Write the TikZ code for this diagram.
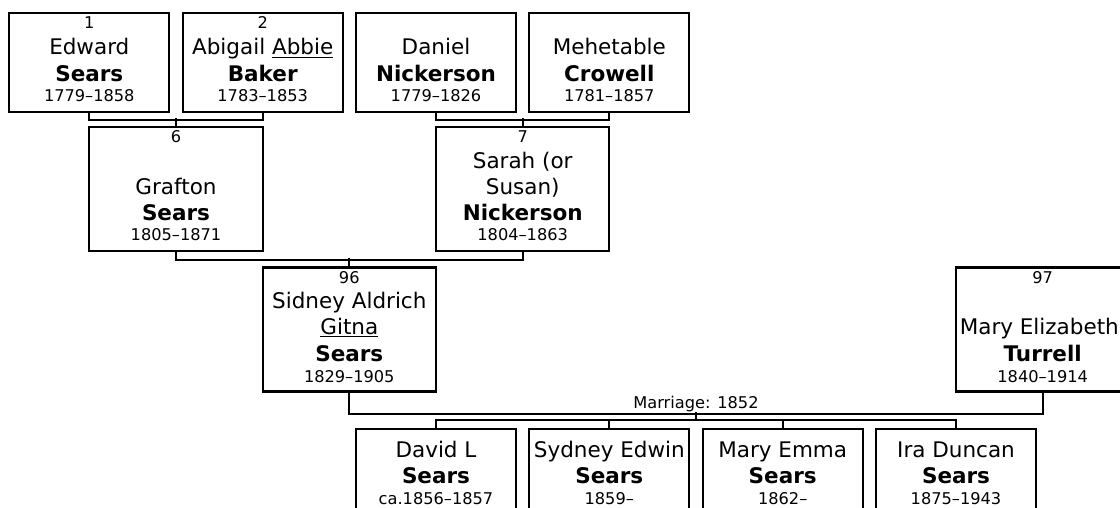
\documentclass[tikz,border=0pt]{standalone}
\usepackage{fontspec}
\setmainfont{DejaVu Sans}
\usetikzlibrary{calc}

\begin{document}
\begin{tikzpicture}[x=1pt, y=-1pt, line join=miter,
  caja/.style={draw, line width=2.2pt, inner sep=0pt, minimum width=160pt, minimum height=99pt},
  ancha/.style={caja, minimum width=173.3pt, minimum height=124pt},
  hijo/.style={caja, minimum height=85pt},
  nombre/.style={anchor=base, font=\fontsize{21.5}{25}\selectfont},
  apellido/.style={anchor=base, font=\fontsize{21.5}{25}\selectfont\bfseries},
  dato/.style={anchor=base, font=\fontsize{16.2}{19}\selectfont},
  enlace/.style={line width=2.2pt}]
  \useasboundingbox (0,0) rectangle (1120,508);
  \fill[white] (0,0) rectangle (1120,508);
  \clip (0,0) rectangle (1120,508);

  % Bisabuelos
  \node[caja] (edward) at (89.3,62.5) {};
  \node[dato] (edward-n) at (89.3,28.5) {1};
  \node[nombre] (edward-p) at (89.3,55) {Edward};
  \node[apellido] (edward-a) at (89.3,81.5) {Sears};
  \node[dato] (edward-f) at (89.3,101.5) {1779--1858};

  \node[caja] (abigail) at (262.7,62.5) {};
  \node[dato] (abigail-n) at (262.7,28.5) {2};
  \node[nombre] (abigail-p) at (262.7,55) {Abigail \underline{Abbie}};
  \node[apellido] (abigail-a) at (262.7,81.5) {Baker};
  \node[dato] (abigail-f) at (262.7,101.5) {1783--1853};

  \node[caja] (daniel) at (436,62.5) {};
  \node[nombre] (daniel-p) at (436,55) {Daniel};
  \node[apellido] (daniel-a) at (436,81.5) {Nickerson};
  \node[dato] (daniel-f) at (436,101.5) {1779--1826};

  \node[caja] (mehetable) at (609.3,62.5) {};
  \node[nombre] (mehetable-p) at (609.3,55) {Mehetable};
  \node[apellido] (mehetable-a) at (609.3,81.5) {Crowell};
  \node[dato] (mehetable-f) at (609.3,101.5) {1781--1857};

  % Abuelos
  \node[ancha] (grafton) at (176,189) {};
  \node[dato] (grafton-n) at (176,142.5) {6};
  \node[nombre] (grafton-p) at (176,194.5) {Grafton};
  \node[apellido] (grafton-a) at (176,220) {Sears};
  \node[dato] (grafton-f) at (176,240.5) {1805--1871};

  \node[ancha] (sarah) at (522.7,189) {};
  \node[dato] (sarah-n) at (522.7,142.5) {7};
  \node[nombre] (sarah-p) at (522.7,168) {Sarah (or};
  \node[nombre] (sarah-q) at (522.7,194.5) {Susan)};
  \node[apellido] (sarah-a) at (522.7,220) {Nickerson};
  \node[dato] (sarah-f) at (522.7,240.5) {1804--1863};

  % Padres
  \node[ancha] (sidney) at (349.3,329.5) {};
  \node[dato] (sidney-n) at (349.3,283) {96};
  \node[nombre] (sidney-p) at (349.3,308) {Sidney Aldrich};
  \node[nombre] (sidney-q) at (349.3,334) {\underline{Gitna}};
  \node[apellido] (sidney-a) at (349.3,361) {Sears};
  \node[dato] (sidney-f) at (349.3,382) {1829--1905};

  \node[ancha] (mary) at (1042.7,329.5) {};
  \node[dato] (mary-n) at (1042.7,283) {97};
  \node[nombre] (mary-p) at (1039.3,334) {Mary Elizabeth};
  \node[apellido] (mary-a) at (1042.7,361) {Turrell};
  \node[dato] (mary-f) at (1042.7,382) {1840--1914};

  % Hijos
  \node[hijo] (david) at (436,471.5) {};
  \node[nombre] (david-p) at (436,457) {David L};
  \node[apellido] (david-a) at (436,483) {Sears};
  \node[dato] (david-f) at (436,504) {ca.1856--1857};

  \node[hijo] (sydney) at (609.3,471.5) {};
  \node[nombre] (sydney-p) at (609.3,457) {Sydney Edwin};
  \node[apellido] (sydney-a) at (609.3,483) {Sears};
  \node[dato] (sydney-f) at (609.3,504) {1859--};

  \node[hijo] (emma) at (782.7,471.5) {};
  \node[nombre] (emma-p) at (782.7,457) {Mary Emma};
  \node[apellido] (emma-a) at (782.7,483) {Sears};
  \node[dato] (emma-f) at (782.7,504) {1862--};

  \node[hijo] (ira) at (956,471.5) {};
  \node[nombre] (ira-p) at (956,457) {Ira Duncan};
  \node[apellido] (ira-a) at (956,483) {Sears};
  \node[dato] (ira-f) at (956,504) {1875--1943};

  % Enlaces
  \draw[enlace] (edward.south) -- ++(0,7) -| (abigail.south);
  \draw[enlace] (grafton.north) -- ++(0,-8);
  \draw[enlace] (daniel.south) -- ++(0,7) -| (mehetable.south);
  \draw[enlace] (sarah.north) -- ++(0,-8);
  \draw[enlace] (grafton.south) -- ++(0,8) -| (sarah.south);
  \draw[enlace] (sidney.north) -- ++(0,-8);

  \draw[enlace] (sidney.south) -- ++(0,21) -| (mary.south);
  \node[dato] (boda) at (696,408) {Marriage: 1852};
  \coordinate (union) at (696,412);
  \draw[enlace] (union) -- ++(0,9);
  \draw[enlace] (david.north) -- ++(0,-8) -| (ira.north);
  \draw[enlace] (sydney.north) -- ++(0,-8);
  \draw[enlace] (emma.north) -- ++(0,-8);
\end{tikzpicture}
\end{document}
